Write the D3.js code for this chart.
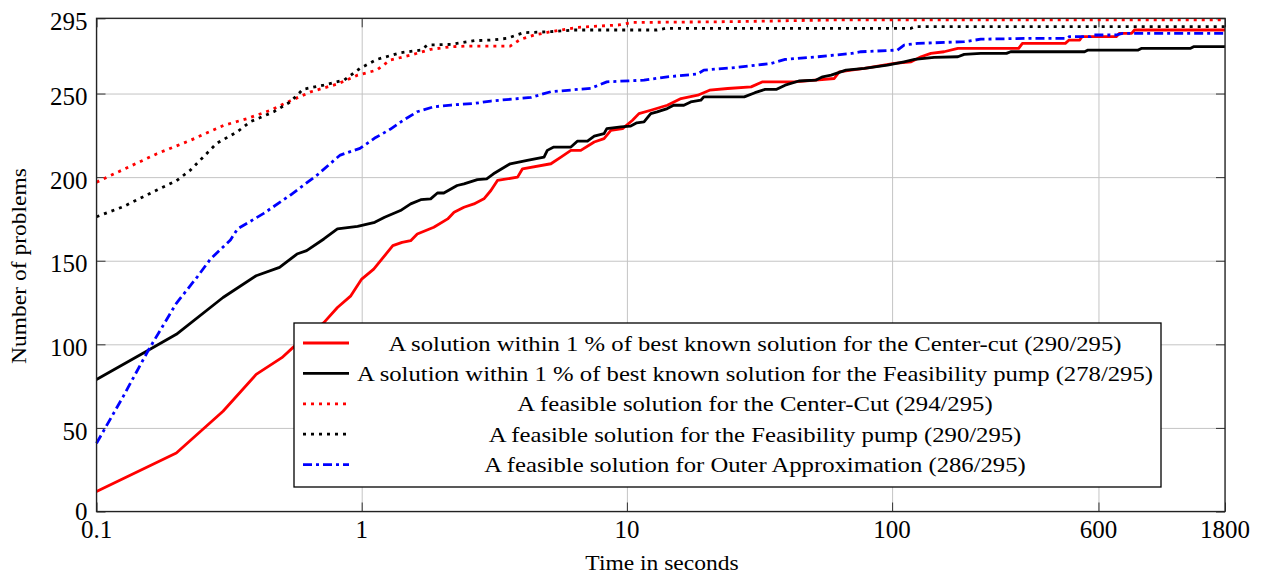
<!DOCTYPE html>
<html>

<head>
    <title>Solution quality over time</title>
    <meta charset="utf-8">
    <style>
        body { margin: 0; background: #fff; }
        text { font-family: "Liberation Serif", "DejaVu Serif", serif; fill: #000; }
    </style>
</head>
<script src="https://d3js.org/d3.v7.min.js"></script>

<body>
    <div id="chart"></div>
<script>
    // [time in seconds, number of problems]
    const cc1 = [[0.1, 12], [0.2, 35], [0.3, 60], [0.4, 82], [0.5, 92], [0.55, 98], [0.72, 113], [0.81, 122],
        [0.91, 129], [1.0, 139], [1.11, 145], [1.31, 159], [1.42, 161], [1.53, 162], [1.62, 166], [1.87, 170],
        [2.11, 175], [2.23, 179], [2.43, 182], [2.65, 184], [2.89, 187], [3.07, 192], [3.25, 198], [3.87, 200],
        [4.04, 205], [5.17, 208], [5.64, 212], [6.15, 216], [6.7, 216], [7.53, 221], [8.2, 223], [8.7, 228],
        [9.63, 229], [10.5, 234], [11.1, 238], [12.3, 240], [14.2, 243], [16, 247], [18.5, 249], [20.5, 252],
        [24, 253], [29.4, 254], [32.5, 257], [42.8, 257], [60.5, 259], [63.2, 263], [70, 264], [78.6, 265],
        [102, 268], [118, 269], [128.6, 272], [140, 274], [157, 275], [177, 277], [300, 277], [310, 280],
        [450, 280], [465, 282], [510, 282], [520, 284], [700, 284], [720, 286], [800, 286], [820, 288], [1800, 288]];

    const fp1 = [[0.1, 79], [0.155, 96], [0.2, 106], [0.3, 128], [0.4, 141], [0.49, 146], [0.57, 154], [0.62, 156],
        [0.72, 163], [0.81, 169], [0.965, 170.5], [1.12, 173], [1.22, 176], [1.4, 180], [1.53, 184], [1.67, 186.5],
        [1.82, 187], [1.93, 190.5], [2.04, 190.5], [2.29, 195], [2.43, 196], [2.73, 198.5], [2.96, 199], [3.14, 202],
        [3.63, 208], [4.21, 210], [4.87, 212], [5.01, 216], [5.3, 218], [6.15, 218], [6.5, 221.5], [7.1, 221.5],
        [7.53, 224.5], [8.2, 226], [8.4, 229], [9.5, 230], [10.3, 230.5], [10.9, 232.5], [11.6, 233], [12.3, 238],
        [13, 239], [14.2, 241], [15, 243], [16.4, 243], [17.4, 245], [19, 246], [19.5, 248], [27.7, 248],
        [30.4, 250.5], [33.2, 252.5], [36.7, 252.5], [39.5, 255], [44.5, 257.5], [51.5, 258], [54.7, 260],
        [58.9, 261], [67, 264], [78.6, 265], [96, 267], [111, 269], [121.6, 270.4], [144, 271.6], [177, 272],
        [187, 273.4], [216, 274], [270, 274], [280, 275], [532, 275], [548, 276], [847, 276], [870, 277],
        [1330, 277], [1370, 278], [1800, 278]];

    const ccFeas = [[0.1, 197], [0.126, 204.5], [0.169, 214], [0.226, 222], [0.302, 231], [0.37, 235], [0.453, 240],
        [0.539, 245.7], [0.642, 251], [0.81, 255.7], [0.965, 261], [1.14, 264], [1.28, 270], [1.53, 273],
        [1.82, 276.4], [2.17, 278], [2.5, 278.4], [3.63, 278.4], [3.97, 282.4], [4.47, 285], [5.17, 287],
        [6.5, 289.6], [9.3, 291], [10.5, 292.5], [25, 293], [60, 294], [1800, 294]];

    const fpFeas = [[0.1, 176.3], [0.126, 182.3], [0.169, 192.3], [0.2, 197.8], [0.226, 204.2], [0.284, 220.2],
        [0.34, 227.2], [0.38, 233.1], [0.466, 239.1], [0.539, 245.1], [0.6, 252.5], [0.72, 255.1], [0.86, 258.1],
        [0.985, 265], [1.14, 270.4], [1.4, 274.4], [1.67, 276], [1.77, 279], [2.17, 279.4], [2.66, 281.6],
        [3.07, 282], [3.53, 283], [4.08, 286.4], [5.17, 287], [6.3, 288], [13, 288], [14, 289], [118, 289],
        [122, 290], [1800, 290]];

    const oaFeas = [[0.1, 40.8], [0.126, 68.7], [0.157, 96.6], [0.2, 124.5], [0.24, 140.4], [0.269, 151],
        [0.32, 162.4], [0.34, 169], [0.427, 178.3], [0.539, 189.3], [0.68, 201.3], [0.764, 208.3], [0.83, 213.2],
        [0.985, 217.2], [1.116, 223.2], [1.28, 228.6], [1.44, 234.2], [1.62, 239.1], [1.87, 242.1], [2.17, 243.1],
        [2.66, 244.1], [3.07, 245.5], [4.35, 247.7], [5.17, 251.1], [7.3, 253.1], [8.4, 257], [11.6, 258],
        [14.2, 260], [18.5, 261.7], [19.5, 264], [26.2, 265.7], [35, 268], [39.5, 270.4], [52.6, 272], [70.4, 274],
        [76.3, 275], [104.7, 276], [111, 279], [125, 280], [187, 281], [216, 282.5], [330, 283], [455, 283],
        [465, 284], [560, 284], [570, 285], [700, 285], [740, 286], [1800, 286]];

    const xTicks = [0.1, 1, 10, 100, 600, 1800];
    const yTicks = [0, 50, 100, 150, 200, 250, 295];

    const legendLabels = [
        "A solution within 1 % of best known solution for the Center-cut (290/295)",
        "A solution within 1 % of best known solution for the Feasibility pump (278/295)",
        "A feasible solution for the Center-Cut (294/295)",
        "A feasible solution for the Feasibility pump (290/295)",
        "A feasible solution for Outer Approximation (286/295)"
    ];

    const STYLE = [
        { color: "#ff0000", dash: null },
        { color: "#000000", dash: null },
        { color: "#ff0000", dash: "3,5" },
        { color: "#000000", dash: "3,5" },
        { color: "#0000ff", dash: "9,4,3,4" }
    ];

    const series = [cc1, fp1, ccFeas, fpFeas, oaFeas];

    const margin = { top: 18.3, right: 38, bottom: 62.5, left: 96.5 },
        W = 1263, H = 574,
        width = W - margin.left - margin.right,
        height = H - margin.top - margin.bottom;

    const svg = d3.select("#chart").append("svg")
        .attr("width", W)
        .attr("height", H);

    const g = svg.append("g")
        .attr("transform", "translate(" + margin.left + "," + margin.top + ")");

    const x = d3.scaleLog().domain([0.1, 1800]).range([0, width]);
    const y = d3.scaleLinear().domain([0, 295]).range([height, 0]);

    // grid
    g.append("g").attr("class", "grid-x")
        .attr("transform", "translate(0," + height + ")")
        .call(d3.axisBottom(x).tickValues(xTicks).tickSize(-height).tickFormat(""))
        .call(a => a.select(".domain").remove())
        .selectAll("line").attr("stroke", "#c4c4c4").attr("stroke-width", 1);

    g.append("g").attr("class", "grid-y")
        .call(d3.axisLeft(y).tickValues(yTicks).tickSize(-width).tickFormat(""))
        .call(a => a.select(".domain").remove())
        .selectAll("line").attr("stroke", "#c4c4c4").attr("stroke-width", 1);

    // inner tick marks on all four sides
    const tickLen = 9;
    g.append("g").call(d3.axisBottom(x).tickValues(xTicks).tickSize(tickLen).tickFormat(""))
        .attr("transform", "translate(0," + (height - tickLen) + ")")
        .call(a => a.select(".domain").remove());
    g.append("g").call(d3.axisBottom(x).tickValues(xTicks).tickSize(tickLen).tickFormat(""))
        .call(a => a.select(".domain").remove());
    g.append("g").call(d3.axisLeft(y).tickValues(yTicks).tickSize(tickLen).tickFormat(""))
        .attr("transform", "translate(" + tickLen + ",0)")
        .call(a => a.select(".domain").remove());
    g.append("g").call(d3.axisLeft(y).tickValues(yTicks).tickSize(tickLen).tickFormat(""))
        .attr("transform", "translate(" + width + ",0)")
        .call(a => a.select(".domain").remove());
    g.selectAll("g.tick line").filter(function () {
        return !this.closest(".grid-x") && !this.closest(".grid-y");
    }).attr("stroke", "#333").attr("stroke-width", 1);

    // tick labels
    g.append("g").selectAll("text").data(xTicks).join("text")
        .attr("x", d => x(d))
        .attr("y", height + 26.5)
        .attr("text-anchor", "middle")
        .style("font-size", "25px")
        .text(d => d);

    g.append("g").selectAll("text").data(yTicks).join("text")
        .attr("x", -9)
        .attr("y", d => y(d) + (d === 0 ? 0 : 3))
        .attr("dy", "0.35em")
        .attr("text-anchor", "end")
        .style("font-size", "25px")
        .text(d => d);

    // the curves
    const line = d3.line()
        .x(d => x(d[0]))
        .y(d => y(d[1]));

    series.forEach(function (s, i) {
        g.append("path")
            .datum(s)
            .attr("fill", "none")
            .attr("stroke", STYLE[i].color)
            .attr("stroke-width", 2.8)
            .attr("stroke-linejoin", "round")
            .attr("stroke-dasharray", STYLE[i].dash)
            .attr("d", line);
    });

    // frame
    g.append("rect")
        .attr("width", width)
        .attr("height", height)
        .attr("fill", "none")
        .attr("stroke", "#222")
        .attr("stroke-width", 1.3);

    // legend
    const leg = svg.append("g").attr("transform", "translate(294,323)");
    leg.append("rect")
        .attr("width", 867)
        .attr("height", 164)
        .attr("fill", "#fff")
        .attr("stroke", "#000")
        .attr("stroke-width", 1.3);

    const rows = leg.selectAll("g.row").data(legendLabels).join("g")
        .attr("class", "row")
        .attr("transform", (d, i) => "translate(0," + (20 + i * 30.4) + ")");

    rows.append("line")
        .attr("x1", 9).attr("x2", 55)
        .attr("stroke", (d, i) => STYLE[i].color)
        .attr("stroke-width", 2.8)
        .attr("stroke-dasharray", (d, i) => STYLE[i].dash);

    const legText = rows.append("text")
        .attr("x", 461)
        .attr("y", 7.5)
        .attr("text-anchor", "middle")
        .style("font-size", "21px")
        .text(d => d);

    // stretch the times-like font to the wider look of the original
    let widest = d3.max(legText.nodes(), n => n.getComputedTextLength());
    let stretch = 796 / widest;
    legText.each(function () {
        d3.select(this)
            .attr("textLength", this.getComputedTextLength() * stretch)
            .attr("lengthAdjust", "spacingAndGlyphs");
    });

    // axis titles
    const xTitle = svg.append("text")
        .attr("x", 662)
        .attr("y", 570)
        .attr("text-anchor", "middle")
        .style("font-size", "20px")
        .text("Time in seconds");

    const yTitle = svg.append("text")
        .attr("transform", "translate(26,266) rotate(-90)")
        .attr("text-anchor", "middle")
        .style("font-size", "20px")
        .text("Number of problems");

    [xTitle, yTitle].forEach(function (t) {
        let n = t.node();
        t.attr("textLength", n.getComputedTextLength() * stretch)
            .attr("lengthAdjust", "spacingAndGlyphs");
    });
</script>
</body>

</html>
